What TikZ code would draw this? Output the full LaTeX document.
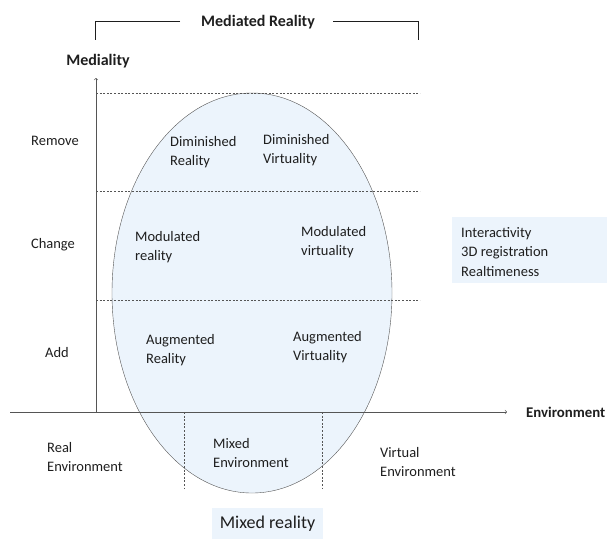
\documentclass[tikz,border=0pt]{standalone}
\usepackage{fontspec}
\setmainfont{Carlito}
\usepackage{xcolor}
\definecolor{highlight}{RGB}{236,244,252}
\definecolor{axisgray}{RGB}{85,85,85}
\definecolor{textgray}{RGB}{30,30,30}
\usetikzlibrary{positioning}
\usetikzlibrary{calc}

\tikzset{
  label/.style={font=\fontsize{14.5}{19.5}\selectfont, align=left, inner sep=0pt, text=textgray},
  title/.style={font=\fontsize{16}{19}\selectfont\bfseries, inner sep=0pt, text=textgray},
  level/.style={color=axisgray, dash pattern=on 2pt off 1.6pt},
}

\begin{document}
\begin{tikzpicture}[x=1pt, y=-1pt]
\useasboundingbox (0,0) rectangle (607,539);

% Mixed reality region
\filldraw[fill=highlight, draw=axisgray, thin] (252,293) ellipse [x radius=140pt, y radius=200pt];

% Levels
\draw[level] (96,93) -- (420,93);
\draw[level] (96,191) -- (420,191);
\draw[level] (96,300) -- (420,300);

\draw[level] (184,412) -- (184,488);
\draw[level] (322,412) -- (322,488);

% Axes
\coordinate (origin) at (96,412);
\coordinate (ytop) at (96,78);
\coordinate (xstart) at (10,412);
\coordinate (xend) at (507,412);
\draw[color=axisgray, semithick, ->] (origin) -- (ytop);
\draw[color=axisgray, semithick, ->] (xstart) -- (xend);

% Mediated Reality bracket
\node[title] (mediated) at (258,22) {Mediated Reality};
\draw[thick, color=textgray] (180,21) -| (95,40);
\draw[thick, color=textgray] (333,21) -| (418,40);

\node[title] (mediality) at (98,61) {Mediality};
\node[title, font=\fontsize{14.8}{18}\selectfont\bfseries, anchor=west] (environment) at (526,412) {Environment};

% Medialities
\node[label] (remove) at (55,141) {Remove};
\node[label] (change) at (53,245) {Change};
\node[label] (add) at (57,353) {Add};

% Inside the ellipse
\node[label, anchor=west] (dimreal) at (170,152) {Diminished\\Reality};
\node[label, anchor=west] (dimvirt) at (263,150) {Diminished\\Virtuality};
\node[label, anchor=west] (modreal) at (135,247) {Modulated\\reality};
\node[label, anchor=west] (modvirt) at (301,242) {Modulated\\virtuality};
\node[label, anchor=west] (augreal) at (146,350) {Augmented\\Reality};
\node[label, anchor=west] (augvirt) at (293,347) {Augmented\\Virtuality};

% Environments
\node[label, anchor=west] (realenv) at (47,457) {Real\\Environment};
\node[label, anchor=west] (mixedenv) at (213,453) {Mixed\\Environment};
\node[label, anchor=west] (virtenv) at (380,462) {Virtual\\Environment};

% Properties
\fill[highlight] (452,217) rectangle (607,283);
\node[label, anchor=west] (props) at (461,252) {Interactivity\\3D registration\\Realtimeness};

% Mixed reality
\node[fill=highlight, font=\fontsize{18}{22}\selectfont, text=textgray, minimum width=111pt, minimum height=31pt, inner sep=0pt] (mixedreality) at (267.5,523.5) {Mixed reality};

\end{tikzpicture}
\end{document}
